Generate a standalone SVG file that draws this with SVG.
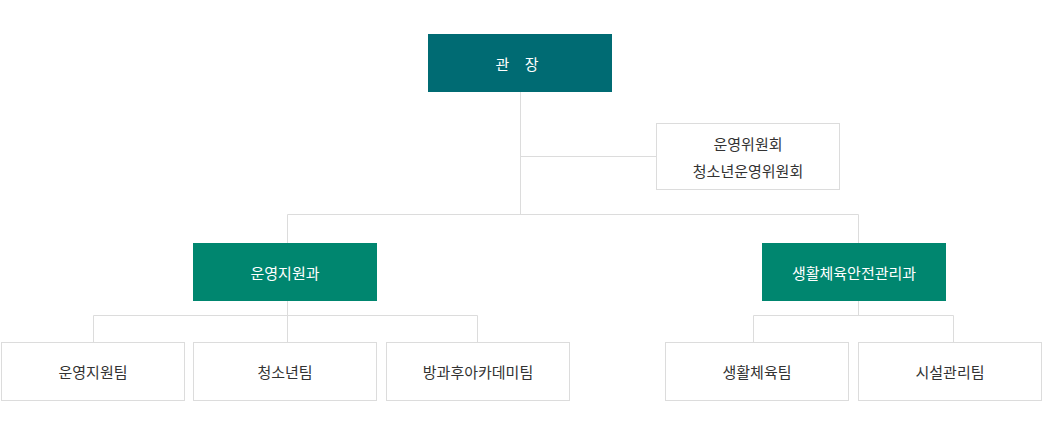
<svg xmlns="http://www.w3.org/2000/svg" width="1042" height="442" viewBox="0 0 1042 442">
<style>
text{font-family:"Noto Sans CJK KR","Noto Sans",sans-serif;font-size:15px;text-anchor:middle;dominant-baseline:central}
.w{fill:#ffffff}
.d{fill:#333333}
.box{fill:#ffffff;stroke:#dcdcdc;stroke-width:1}
.ln{fill:none;stroke:#dcdcdc;stroke-width:1}
</style>
<rect width="1042" height="442" fill="#ffffff"/>
<g id="connectors">
<path class="ln" d="M520.5 92V214.5M520.5 156.5H656M287.5 243V214.5H858.5V243"/>
<path class="ln" d="M287.5 301V315.5M93.5 342V315.5H477.5V342M287.5 315.5V342"/>
<path class="ln" d="M858.5 301V315.5M753.5 342V315.5H953.5V342"/>
</g>
<g id="director">
<rect x="428" y="34" width="184" height="58" fill="#006b73"/>
<text class="w" x="520" y="63" letter-spacing="6">관 장</text>
</g>
<g id="committee">
<rect class="box" x="656.5" y="123.5" width="183" height="66"/>
<text class="d" x="748" y="143">운영위원회</text>
<text class="d" x="748" y="170">청소년운영위원회</text>
</g>
<g id="dept1">
<rect x="193" y="243" width="184" height="58" fill="#00866f"/>
<text class="w" x="285" y="272">운영지원과</text>
</g>
<g id="dept2">
<rect x="762" y="243" width="184" height="58" fill="#00866f"/>
<text class="w" x="854" y="272">생활체육안전관리과</text>
</g>
<g id="team1">
<rect class="box" x="1.5" y="342.5" width="183" height="58"/>
<text class="d" x="93" y="371">운영지원팀</text>
</g>
<g id="team2">
<rect class="box" x="193.5" y="342.5" width="183" height="58"/>
<text class="d" x="285" y="371">청소년팀</text>
</g>
<g id="team3">
<rect class="box" x="386.5" y="342.5" width="183" height="58"/>
<text class="d" x="478" y="371">방과후아카데미팀</text>
</g>
<g id="team4">
<rect class="box" x="665.5" y="342.5" width="183" height="58"/>
<text class="d" x="757" y="371">생활체육팀</text>
</g>
<g id="team5">
<rect class="box" x="858.5" y="342.5" width="183" height="58"/>
<text class="d" x="950" y="371">시설관리팀</text>
</g>
</svg>
